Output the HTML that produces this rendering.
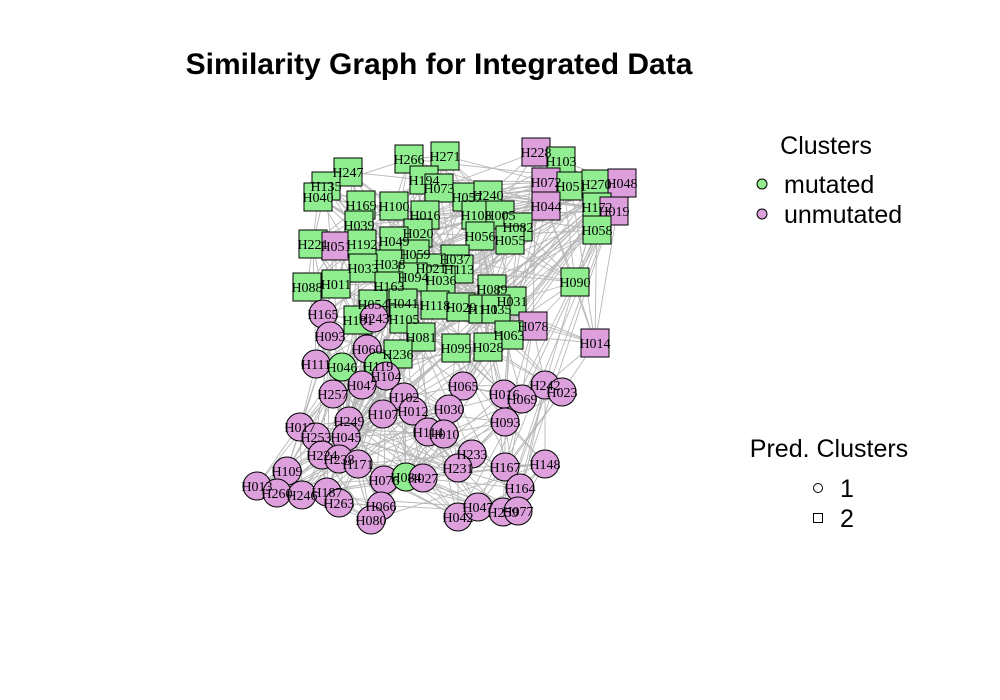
<!DOCTYPE html>
<html><head><meta charset="utf-8"><style>
html,body{margin:0;padding:0;background:#fff}
svg{display:block}
</style></head><body>
<svg id="chart" width="1000" height="700" viewBox="0 0 1000 700" xmlns="http://www.w3.org/2000/svg">
<rect width="1000" height="700" fill="#fff"/>
<text x="439" y="74" text-anchor="middle" font-family="Liberation Sans, sans-serif" font-weight="bold" font-size="30" fill="#000">Similarity Graph for Integrated Data</text>
<g id="edges"></g>
<g id="nodes"></g>
<g>
<text x="826" y="154" text-anchor="middle" font-family="Liberation Sans, sans-serif" font-size="25">Clusters</text>
<circle cx="762" cy="184" r="5" fill="#90EE90" stroke="#000"/>
<text x="784" y="193" font-family="Liberation Sans, sans-serif" font-size="25">mutated</text>
<circle cx="762" cy="214" r="5" fill="#DDA0DD" stroke="#000"/>
<text x="784" y="223" font-family="Liberation Sans, sans-serif" font-size="25">unmutated</text>
</g>
<g>
<text x="829" y="457" text-anchor="middle" font-family="Liberation Sans, sans-serif" font-size="25">Pred. Clusters</text>
<circle cx="818" cy="488" r="4.5" fill="none" stroke="#000"/>
<text x="840" y="497" font-family="Liberation Sans, sans-serif" font-size="25">1</text>
<rect x="813.5" y="513.5" width="9" height="9" fill="none" stroke="#000"/>
<text x="840" y="527" font-family="Liberation Sans, sans-serif" font-size="25">2</text>
</g>
</svg>
<script>
const names=["H266","H271","H228","H103","H247","H135","H194","H073","H072","H051","H270","H048","H040","H169","H100","H057","H240","H016","H108","H005","H044","H172","H019","H039","H020","H082","H058","H221","H051","H192","H049","H056","H055","H059","H037","H038","H033","H021","H113","H036","H094","H088","H011","H163","H090","H089","H031","H054","H041","H118","H029","H111","H035","H181","H105","H081","H078","H014","H063","H099","H028","H236",
"H165","H243","H093","H060","H111","H046","H119","H104","H047","H257","H065","H016","H242","H069","H023","H102","H107","H012","H030","H093","H017","H249","H253","H045","H114","H010","H233","H224","H238","H171","H231","H167","H148","H109","H076","H084","H027","H164","H013","H260","H246","H187","H263","H066","H042","H047","H259","H077","H080"];
const xs=[409,445,536,561,348,326,424,439,546,571,596,622,318,361,394,467,488,425,476,500,546,597,614,359,418,518,597,313,336,362,394,480,510,415,455,390,363,431,459,441,413,307,336,389,575,492,512,373,403,435,461,483,496,358,404,421,533,595,509,456,488,398,
323,374,330,367,316,342,378,386,362,333,463,504,545,522,562,404,383,413,449,505,300,349,316,346,428,444,472,322,339,358,458,505,545,287,384,406,423,520,257,277,302,327,339,381,458,478,503,518,371];
const ys=[159,156,152,161,172,186,180,188,182,186,184,183,197,205,206,197,195,215,215,215,206,207,211,225,233,227,230,244,246,244,241,236,240,254,259,264,268,268,269,280,277,287,284,286,282,289,301,304,303,305,307,309,309,320,319,337,326,343,335,348,347,354,
314,318,336,349,364,367,366,376,385,394,386,394,385,399,392,397,414,411,409,422,427,421,437,437,432,434,454,455,459,464,468,467,464,471,480,477,478,488,486,493,495,492,503,506,517,507,512,511,520];
const mutated=[1,1,0,1,1,1,1,1,0,1,1,0,1,1,1,1,1,1,1,1,0,1,0,1,1,1,1,1,0,1,1,1,1,1,1,1,1,1,1,1,1,1,1,1,1,1,1,1,1,1,1,1,1,1,1,1,0,0,1,1,1,1,
0,0,0,0,0,1,1,0,0,0,0,0,0,0,0,0,0,0,0,0,0,0,0,0,0,0,0,0,0,0,0,0,0,0,0,1,0,0,0,0,0,0,0,0,0,0,0,0,0];
const pred=[2,2,2,2,2,2,2,2,2,2,2,2,2,2,2,2,2,2,2,2,2,2,2,2,2,2,2,2,2,2,2,2,2,2,2,2,2,2,2,2,2,2,2,2,2,2,2,2,2,2,2,2,2,2,2,2,2,2,2,2,2,2,
1,1,1,1,1,1,1,1,1,1,1,1,1,1,1,1,1,1,1,1,1,1,1,1,1,1,1,1,1,1,1,1,1,1,1,1,1,1,1,1,1,1,1,1,1,1,1,1,1];
const NS="http://www.w3.org/2000/svg";
const eg=document.getElementById('edges'), ng=document.getElementById('nodes');
const n=names.length;
function mk(t,a){const e=document.createElementNS(NS,t);for(const k in a)e.setAttribute(k,a[k]);return e;}
const seen=new Set();
function addEdge(i,j){const k=i<j?i+'-'+j:j+'-'+i;if(i===j||seen.has(k))return;seen.add(k);
 const l=mk('line',{x1:xs[i],y1:ys[i],x2:xs[j],y2:ys[j],stroke:'#b8b8b8','stroke-width':0.9});
 
 
 eg.appendChild(l);}
for(let i=0;i<n;i++){
 const d=[];for(let j=0;j<n;j++)if(j!==i)d.push([Math.hypot(xs[i]-xs[j],ys[i]-ys[j]),j]);
 d.sort((a,b)=>a[0]-b[0]);
 for(let k=0;k<5;k++)addEdge(i,d[k][1]);
 for(let k=8;k<40;k+=9)addEdge(i,d[k][1]);
 addEdge(i,(i*37+11)%n);
}
for(let i=0;i<n;i++){
 const col=mutated[i]?'#90EE90':'#DDA0DD';
 let s;
 if(pred[i]===2) s=mk('rect',{x:xs[i]-14,y:ys[i]-14,width:28,height:28,fill:col,stroke:'#000','stroke-width':1});
 else s=mk('circle',{cx:xs[i],cy:ys[i],r:14,fill:col,stroke:'#000','stroke-width':1});
 
 
 ng.appendChild(s);
}
for(let i=0;i<n;i++){
 const t=mk('text',{x:xs[i],y:ys[i]+5,'text-anchor':'middle','font-family':'Liberation Serif, serif','font-size':14,fill:'#000'});
 t.textContent=names[i];
 
 
 ng.appendChild(t);
}
</script>
</body></html>
